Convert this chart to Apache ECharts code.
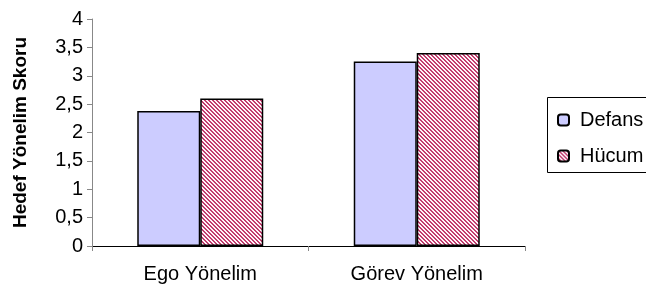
<!DOCTYPE html>
<html>
<head>
<meta charset="utf-8">
<script src="https://cdn.jsdelivr.net/npm/echarts@6/dist/echarts.min.js"></script>
<style>
  html, body { margin: 0; padding: 0; background: #fff; }
  #chart { width: 646px; height: 291px; }
</style>
</head>
<body>
<div id="chart"></div>
<script>
var categories = ['Ego Yönelim', 'Görev Yönelim'];
var defans = [2.38, 3.25];
var hucum = [2.6, 3.4];

// hatch pattern for Hücum bars
function makeHatch() {
    var c = document.createElement('canvas');
    c.width = 4;
    c.height = 4;
    var ctx = c.getContext('2d');
    ctx.fillStyle = '#fff4f8';
    ctx.fillRect(0, 0, 4, 4);
    ctx.fillStyle = '#c23c6e';
    for (var x = 0; x < 4; x++) {
        for (var y = 0; y < 4; y++) {
            if (((x - y) % 4 + 4) % 4 < 2) {
                ctx.fillRect(x, y, 1, 1);
            }
        }
    }
    return c;
}
var hatch = makeHatch();

var font = 'Liberation Sans, Arial, sans-serif';
var myChart = echarts.init(document.getElementById('chart'));
myChart.setOption({
    animation: false,
    textStyle: { fontFamily: font },
    grid: { left: 92, right: 121, top: 19, bottom: 45 },
    legend: {
        orient: 'vertical',
        left: 552,
        top: 105,
        itemWidth: 11,
        itemHeight: 11,
        itemGap: 16,
        textStyle: { fontSize: 20, color: '#000', fontFamily: font, padding: [0, 0, 0, 6] },
        data: ['Defans', 'Hücum']
    },
    graphic: [{
        type: 'rect',
        shape: { x: 547.5, y: 97.5, width: 110, height: 75 },
        style: { fill: 'none', stroke: '#000', lineWidth: 1 },
        z: 1
    }],
    xAxis: {
        type: 'category',
        data: categories,
        axisLine: { lineStyle: { color: '#000', width: 1 } },
        axisTick: { show: true, length: 5, lineStyle: { color: '#888' } },
        axisLabel: { fontSize: 20, color: '#000', margin: 18 }
    },
    yAxis: {
        type: 'value',
        min: 0,
        max: 4,
        interval: 0.5,
        name: 'Hedef Yönelim Skoru',
        nameLocation: 'middle',
        nameGap: 62,
        nameTextStyle: { fontSize: 19, fontWeight: 'bold', color: '#000' },
        axisLine: { show: true, lineStyle: { color: '#888' } },
        axisTick: { show: true, length: 5, lineStyle: { color: '#888' } },
        splitLine: { show: false },
        axisLabel: {
            fontSize: 20,
            color: '#000',
            margin: 9,
            formatter: function (v) { return String(v).replace('.', ','); }
        }
    },
    series: [{
        name: 'Defans',
        type: 'bar',
        data: defans,
        barWidth: 63,
        barGap: '0%',
        itemStyle: { color: '#ccccff', borderColor: '#000', borderWidth: 1.5 }
    }, {
        name: 'Hücum',
        type: 'bar',
        data: hucum,
        barWidth: 63,
        itemStyle: {
            color: { image: hatch, repeat: 'repeat' },
            borderColor: '#000',
            borderWidth: 1.5
        }
    }]
});
</script>
</body>
</html>
